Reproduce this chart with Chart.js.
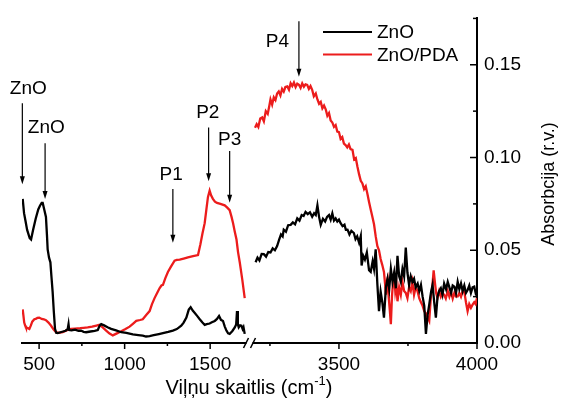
<!DOCTYPE html>
<html>
<head>
<meta charset="utf-8">
<script src="https://cdn.jsdelivr.net/npm/chart.js@4.4.1/dist/chart.umd.min.js"></script>
<style>
  body { margin: 0; background: #fff; }
</style>
</head>
<body>
<canvas id="chart" width="561" height="401"></canvas>
<script>
const FONT = 'Arial, "Liberation Sans", sans-serif';
const RED = '#ec1c1c';

// the x axis is broken: two wavenumber ranges side by side
const leftRange = [400, 1730];
const rightRange = [3176, 4000];
const leftTicks = [500, 1000, 1500];
const rightTicks = [3500, 4000];
const yTicks = [0, 0.05, 0.1, 0.15];
const yMax = 0.175;

const seriesNames = ['ZnO', 'ZnO/PDA'];

// ZnO, low wavenumber part
const znoLeftX = [404, 412, 420, 430, 445, 453, 465, 480, 495, 505, 515, 521, 530, 540, 546, 550, 558, 566, 572, 579,
  586, 593, 600, 609, 625, 640, 655, 667, 672, 676, 690, 710, 730, 745, 760, 775, 800, 825, 843, 855,
  863, 880, 900, 921, 950, 980, 1010, 1048, 1080, 1106, 1125, 1146, 1170, 1200, 1224, 1255, 1282, 1305, 1331, 1345,
  1361, 1375, 1386, 1398, 1409, 1425, 1439, 1455, 1468, 1480, 1497, 1510, 1527, 1540, 1552, 1563, 1575, 1585, 1595, 1605,
  1614, 1630, 1644, 1652, 1657, 1662, 1667, 1675, 1683, 1690, 1695, 1702];
const znoLeftY = [0.0777, 0.070, 0.066, 0.061, 0.0565, 0.0558, 0.061, 0.067, 0.072, 0.074, 0.0755, 0.0755, 0.072, 0.068, 0.058, 0.0505, 0.046, 0.0435, 0.036, 0.0277,
  0.017, 0.0076, 0.0055, 0.0053, 0.0058, 0.0062, 0.0066, 0.0075, 0.0102, 0.007, 0.0068, 0.0072, 0.0066, 0.0067, 0.006, 0.0058, 0.0062, 0.0065, 0.0070, 0.0095,
  0.0102, 0.0095, 0.0085, 0.0076, 0.0068, 0.0058, 0.0055, 0.0046, 0.0043, 0.0040, 0.0035, 0.0037, 0.0042, 0.0048, 0.0053, 0.006, 0.0067, 0.0075, 0.0093, 0.011,
  0.0137, 0.018, 0.0193, 0.0175, 0.0163, 0.0145, 0.0128, 0.011, 0.0098, 0.0102, 0.0105, 0.0112, 0.0119, 0.013, 0.0146, 0.0125, 0.0119, 0.009, 0.0067, 0.0052,
  0.0049, 0.0065, 0.0084, 0.010, 0.0172, 0.010, 0.0084, 0.0095, 0.0093, 0.0075, 0.0085, 0.0049];

// ZnO, high wavenumber part
const znoRightX = [3198, 3205, 3212, 3220, 3228, 3236, 3244, 3252, 3260, 3268, 3276, 3284, 3290, 3296, 3300, 3308, 3316, 3325, 3333, 3341,
  3349, 3357, 3365, 3372, 3379, 3387, 3395, 3403, 3410, 3416, 3422, 3428, 3434, 3442, 3450, 3457, 3464, 3470, 3476, 3482,
  3488, 3494, 3500, 3506, 3513, 3520, 3525, 3531, 3538, 3545, 3554, 3560, 3566, 3573, 3579, 3582, 3588, 3594, 3601, 3609,
  3615, 3622, 3627, 3633, 3639, 3645, 3651, 3657, 3663, 3670, 3676, 3682, 3688, 3694, 3700, 3706, 3712, 3718, 3724, 3730,
  3736, 3742, 3748, 3754, 3760, 3766, 3772, 3778, 3785, 3791, 3797, 3803, 3809, 3815, 3821, 3827, 3833, 3839, 3845, 3851,
  3857, 3863, 3869, 3875, 3881, 3888, 3894, 3900, 3906, 3912, 3918, 3924, 3930, 3936, 3942, 3948, 3954, 3960, 3966, 3972,
  3978, 3984, 3990, 3995, 4000];
const znoRightY = [0.0435, 0.046, 0.0445, 0.048, 0.0479, 0.0465, 0.049, 0.0488, 0.051, 0.050, 0.0523, 0.056, 0.0585, 0.0575, 0.0611, 0.060, 0.0635, 0.0637, 0.065, 0.064,
  0.0672, 0.066, 0.069, 0.0685, 0.0707, 0.0695, 0.0705, 0.0681, 0.070, 0.069, 0.0742, 0.068, 0.0637, 0.067, 0.0655, 0.068, 0.069, 0.0665, 0.0698, 0.066,
  0.0672, 0.0655, 0.0665, 0.0646, 0.063, 0.0638, 0.061, 0.0611, 0.0585, 0.0605, 0.0593, 0.056, 0.0575, 0.0541, 0.0576, 0.0418, 0.047, 0.045, 0.0488, 0.0392,
  0.0383, 0.044, 0.040, 0.0505, 0.032, 0.0172, 0.0277, 0.022, 0.0137, 0.030, 0.0347, 0.029, 0.040, 0.033, 0.038, 0.0295, 0.047, 0.036, 0.033, 0.040,
  0.036, 0.0514, 0.038, 0.0313, 0.036, 0.033, 0.0347, 0.030, 0.032, 0.028, 0.0313, 0.025, 0.020, 0.0049, 0.015, 0.0207, 0.027, 0.0313, 0.022, 0.0137,
  0.025, 0.028, 0.0295, 0.026, 0.032, 0.029, 0.033, 0.030, 0.027, 0.031, 0.0304, 0.027, 0.033, 0.029, 0.0321, 0.028, 0.031, 0.027, 0.0286, 0.031,
  0.027, 0.030, 0.0304, 0.027, 0.0286];

// ZnO/PDA, low wavenumber part
const pdaLeftX = [404, 408, 413, 418, 423, 433, 443, 452, 460, 472, 480, 490, 501, 515, 528, 540, 555, 570, 585, 599,
  615, 638, 660, 687, 710, 740, 760, 784, 810, 835, 853, 870, 892, 910, 931, 955, 980, 1005, 1029, 1050,
  1068, 1090, 1106, 1125, 1146, 1160, 1175, 1190, 1204, 1215, 1224, 1238, 1253, 1270, 1292, 1305, 1322, 1345, 1370, 1400,
  1429, 1443, 1455, 1468, 1478, 1487, 1497, 1506, 1516, 1528, 1540, 1560, 1585, 1600, 1614, 1625, 1634, 1644, 1654, 1663,
  1673, 1688, 1702];
const pdaLeftY = [0.0181, 0.015, 0.011, 0.0095, 0.0084, 0.008, 0.0076, 0.0095, 0.0115, 0.0128, 0.013, 0.0135, 0.0137, 0.013, 0.0128, 0.0123, 0.011, 0.0093, 0.0072, 0.0058,
  0.0055, 0.0058, 0.0068, 0.0076, 0.0078, 0.008, 0.0082, 0.0084, 0.0088, 0.0094, 0.0098, 0.0085, 0.0067, 0.0052, 0.0041, 0.0052, 0.0063, 0.0075, 0.0088, 0.0105,
  0.0119, 0.0124, 0.0128, 0.015, 0.0172, 0.021, 0.0242, 0.027, 0.0295, 0.031, 0.0313, 0.035, 0.0383, 0.041, 0.0444, 0.0448, 0.0449, 0.0455, 0.0462, 0.0468,
  0.0474, 0.0532, 0.059, 0.0646, 0.072, 0.0786, 0.0821, 0.0795, 0.0777, 0.0762, 0.0755, 0.075, 0.0742, 0.073, 0.0716, 0.068, 0.0646, 0.060, 0.0558, 0.049,
  0.0435, 0.034, 0.0242];

// ZnO/PDA, high wavenumber part
const pdaRightX = [3196, 3202, 3208, 3215, 3222, 3228, 3235, 3242, 3248, 3252, 3258, 3264, 3270, 3276, 3282, 3288, 3294, 3300, 3306, 3313,
  3319, 3325, 3331, 3337, 3343, 3349, 3355, 3361, 3367, 3373, 3379, 3385, 3391, 3397, 3403, 3409, 3416, 3422, 3428, 3434,
  3440, 3446, 3452, 3458, 3464, 3470, 3476, 3482, 3488, 3494, 3500, 3506, 3512, 3518, 3524, 3530, 3536, 3542, 3549, 3555,
  3561, 3567, 3573, 3579, 3585, 3591, 3597, 3603, 3609, 3615, 3621, 3627, 3633, 3639, 3645, 3651, 3657, 3663, 3667, 3670,
  3673, 3676, 3680, 3684, 3688, 3692, 3696, 3700, 3704, 3708, 3712, 3718, 3724, 3730, 3736, 3742, 3748, 3754, 3760, 3766,
  3772, 3778, 3785, 3791, 3797, 3803, 3809, 3815, 3821, 3827, 3833, 3838, 3843, 3848, 3852, 3857, 3863, 3869, 3875, 3881,
  3887, 3894, 3900, 3906, 3912, 3918, 3924, 3930, 3936, 3942, 3948, 3954, 3960, 3966, 3972, 3978, 3984, 3990, 3995, 4000];
const pdaRightY = [0.116, 0.118, 0.1165, 0.121, 0.1216, 0.1195, 0.125, 0.1235, 0.128, 0.1313, 0.1285, 0.1325, 0.131, 0.1345, 0.1356, 0.1335, 0.137, 0.1355, 0.138, 0.1383,
  0.1365, 0.140, 0.1385, 0.1404, 0.138, 0.1398, 0.1392, 0.1375, 0.140, 0.1382, 0.1395, 0.1392, 0.137, 0.1385, 0.1365, 0.133, 0.1345, 0.1313, 0.129, 0.130,
  0.1265, 0.128, 0.126, 0.1225, 0.124, 0.120, 0.1189, 0.1165, 0.1175, 0.114, 0.1137, 0.110, 0.111, 0.1075, 0.1067, 0.1055, 0.107, 0.1045, 0.1041, 0.099,
  0.0997, 0.095, 0.0909, 0.0874, 0.086, 0.083, 0.0845, 0.0804, 0.076, 0.072, 0.0681, 0.064, 0.0576, 0.0523, 0.050, 0.0453, 0.042, 0.0383, 0.032, 0.026,
  0.033, 0.0347, 0.025, 0.018, 0.0102, 0.025, 0.033, 0.0365, 0.028, 0.032, 0.0225, 0.030, 0.026, 0.033, 0.028, 0.027, 0.0242, 0.030, 0.028, 0.033,
  0.026, 0.030, 0.0277, 0.024, 0.022, 0.020, 0.0172, 0.016, 0.014, 0.012, 0.025, 0.030, 0.0392, 0.032, 0.027, 0.0242, 0.028, 0.025, 0.027, 0.026,
  0.024, 0.028, 0.025, 0.0277, 0.024, 0.027, 0.025, 0.0251, 0.027, 0.025, 0.028, 0.0277, 0.022, 0.0172, 0.021, 0.019, 0.0207, 0.022, 0.021, 0.0242];

// peak markers: arrow drawn from tail down to tip, label above
const peakNotes = [
  { text: 'ZnO', axis: 'xL', x: 402, labelX: 437, labelY: 0.1372, tail: 0.1293, tip: 0.0856 },
  { text: 'ZnO', axis: 'xL', x: 535, labelX: 542, labelY: 0.1162, tail: 0.1077, tip: 0.0777 },
  { text: 'P1', axis: 'xL', x: 1282, labelX: 1272, labelY: 0.0909, tail: 0.083, tip: 0.0541 },
  { text: 'P2', axis: 'xL', x: 1491, labelX: 1486, labelY: 0.1241, tail: 0.1162, tip: 0.0872 },
  { text: 'P3', axis: 'xL', x: 1614, labelX: 1614, labelY: 0.1093, tail: 0.1035, tip: 0.0756 },
  { text: 'P4', axis: 'xR', x: 3355, labelX: 3277, labelY: 0.1625, tail: 0.1735, tip: 0.1435 },
];

const toPoints = (xs, ys) => xs.map((x, i) => ({ x, y: ys[i] }));

const makeSet = (name, color, xs, ys, axis) => ({
  label: name,
  data: toPoints(xs, ys),
  xAxisID: axis,
  yAxisID: 'y',
  borderColor: color,
  borderWidth: 2.3,
  pointRadius: 0,
  tension: 0,
  fill: false,
});

const line = (ctx, x1, y1, x2, y2) => {
  ctx.beginPath();
  ctx.moveTo(x1, y1);
  ctx.lineTo(x2, y2);
  ctx.stroke();
};

const decorations = {
  id: 'decorations',
  afterDraw(chart) {
    const ctx = chart.ctx;
    const { xL, xR, y } = chart.scales;
    const area = chart.chartArea;
    ctx.save();
    ctx.strokeStyle = '#000';
    ctx.fillStyle = '#000';

    // tick marks: x outward, y inward, minor every half step
    ctx.lineWidth = 1.5;
    [[xL, leftRange], [xR, rightRange]].forEach(([s, r]) => {
      for (let v = Math.ceil(r[0] / 250) * 250; v <= r[1]; v += 250) {
        const px = s.getPixelForValue(v);
        line(ctx, px, area.bottom, px, area.bottom + (v % 500 === 0 ? 6 : 3));
      }
    });
    for (let v = 0.025; v <= yMax + 1e-9; v += 0.025) {
      const py = y.getPixelForValue(v);
      const major = Math.round(v / 0.025) % 2 === 0;
      line(ctx, area.right, py, area.right - (major ? 7 : 4), py);
    }

    // break marks on the x axis
    const bx = xL.right;
    ctx.fillStyle = '#fff';
    ctx.fillRect(bx - 3, area.bottom - 2, 6, 4);
    ctx.lineWidth = 1.5;
    line(ctx, bx - 6, area.bottom + 5, bx - 1, area.bottom - 5);
    line(ctx, bx + 1, area.bottom + 5, bx + 6, area.bottom - 5);

    // peak arrows
    ctx.fillStyle = '#000';
    ctx.font = `19px ${FONT}`;
    ctx.textAlign = 'center';
    ctx.textBaseline = 'middle';
    peakNotes.forEach((n) => {
      const s = chart.scales[n.axis];
      const ax = s.getPixelForValue(n.x);
      const ty = y.getPixelForValue(n.tail);
      const hy = y.getPixelForValue(n.tip);
      ctx.lineWidth = 1.2;
      line(ctx, ax, ty, ax, hy - 6);
      ctx.beginPath();
      ctx.moveTo(ax, hy);
      ctx.lineTo(ax - 2.5, hy - 8);
      ctx.lineTo(ax + 2.5, hy - 8);
      ctx.closePath();
      ctx.fill();
      ctx.fillText(n.text, s.getPixelForValue(n.labelX), y.getPixelForValue(n.labelY));
    });

    // legend
    const legendX = area.right - 154;
    [['#000', 32], [RED, 54.5]].forEach(([color, ly], i) => {
      ctx.strokeStyle = color;
      ctx.lineWidth = 2;
      line(ctx, legendX, ly, legendX + 49, ly);
      ctx.textAlign = 'left';
      ctx.fillStyle = '#000';
      ctx.fillText(seriesNames[i], legendX + 54, ly + 1);
    });

    // axis titles
    ctx.fillStyle = '#000';
    ctx.textBaseline = 'middle';
    const parts = [['Viļņu skaitlis (cm', 20, 0], ['-1', 13, -7], [')', 20, 0]];
    let total = 0;
    parts.forEach(([t, size]) => { ctx.font = `${size}px ${FONT}`; total += ctx.measureText(t).width; });
    let tx = 249 - total / 2;
    ctx.textAlign = 'left';
    parts.forEach(([t, size, dy]) => {
      ctx.font = `${size}px ${FONT}`;
      ctx.fillText(t, tx, 388 + dy);
      tx += ctx.measureText(t).width;
    });

    ctx.font = `18px ${FONT}`;
    ctx.translate(549, 184);
    ctx.rotate(-Math.PI / 2);
    ctx.textAlign = 'center';
    ctx.fillText('Absorbcija (r.v.)', 0, 0);
    ctx.restore();
  },
};

const xAxis = (range, ticks) => ({
  type: 'linear',
  position: 'bottom',
  stack: 'wn',
  stackWeight: 1,
  min: range[0],
  max: range[1],
  grid: { display: false, drawTicks: false, tickLength: 0 },
  border: { display: true, color: '#000', width: 2 },
  ticks: {
    color: '#000',
    font: { family: FONT, size: 19 },
    padding: 10,
    maxRotation: 0,
    callback: (v) => String(v),
  },
  afterBuildTicks: (s) => { s.ticks = ticks.map((value) => ({ value })); },
  afterFit: (s) => { s.height = 58; },
});

new Chart(document.getElementById('chart').getContext('2d'), {
  type: 'line',
  data: {
    datasets: [
      makeSet(seriesNames[0], '#000', znoLeftX, znoLeftY, 'xL'),
      makeSet(seriesNames[0], '#000', znoRightX, znoRightY, 'xR'),
      makeSet(seriesNames[1], RED, pdaLeftX, pdaLeftY, 'xL'),
      makeSet(seriesNames[1], RED, pdaRightX, pdaRightY, 'xR'),
    ],
  },
  options: {
    responsive: false,
    animation: false,
    layout: { padding: { left: 22, top: 10, right: 0, bottom: 0 } },
    plugins: { legend: { display: false }, tooltip: { enabled: false } },
    scales: {
      xL: xAxis(leftRange, leftTicks),
      xR: xAxis(rightRange, rightTicks),
      y: {
        type: 'linear',
        position: 'right',
        min: 0,
        max: yMax,
        grid: { display: false, drawTicks: false, tickLength: 0 },
        border: { display: true, color: '#000', width: 2 },
        ticks: {
          color: '#000',
          font: { family: FONT, size: 19 },
          padding: 7,
          callback: (v) => v.toFixed(2),
        },
        afterBuildTicks: (s) => { s.ticks = yTicks.map((value) => ({ value })); },
        afterFit: (s) => { s.width = 84; },
      },
    },
  },
  plugins: [decorations],
});
</script>
</body>
</html>
